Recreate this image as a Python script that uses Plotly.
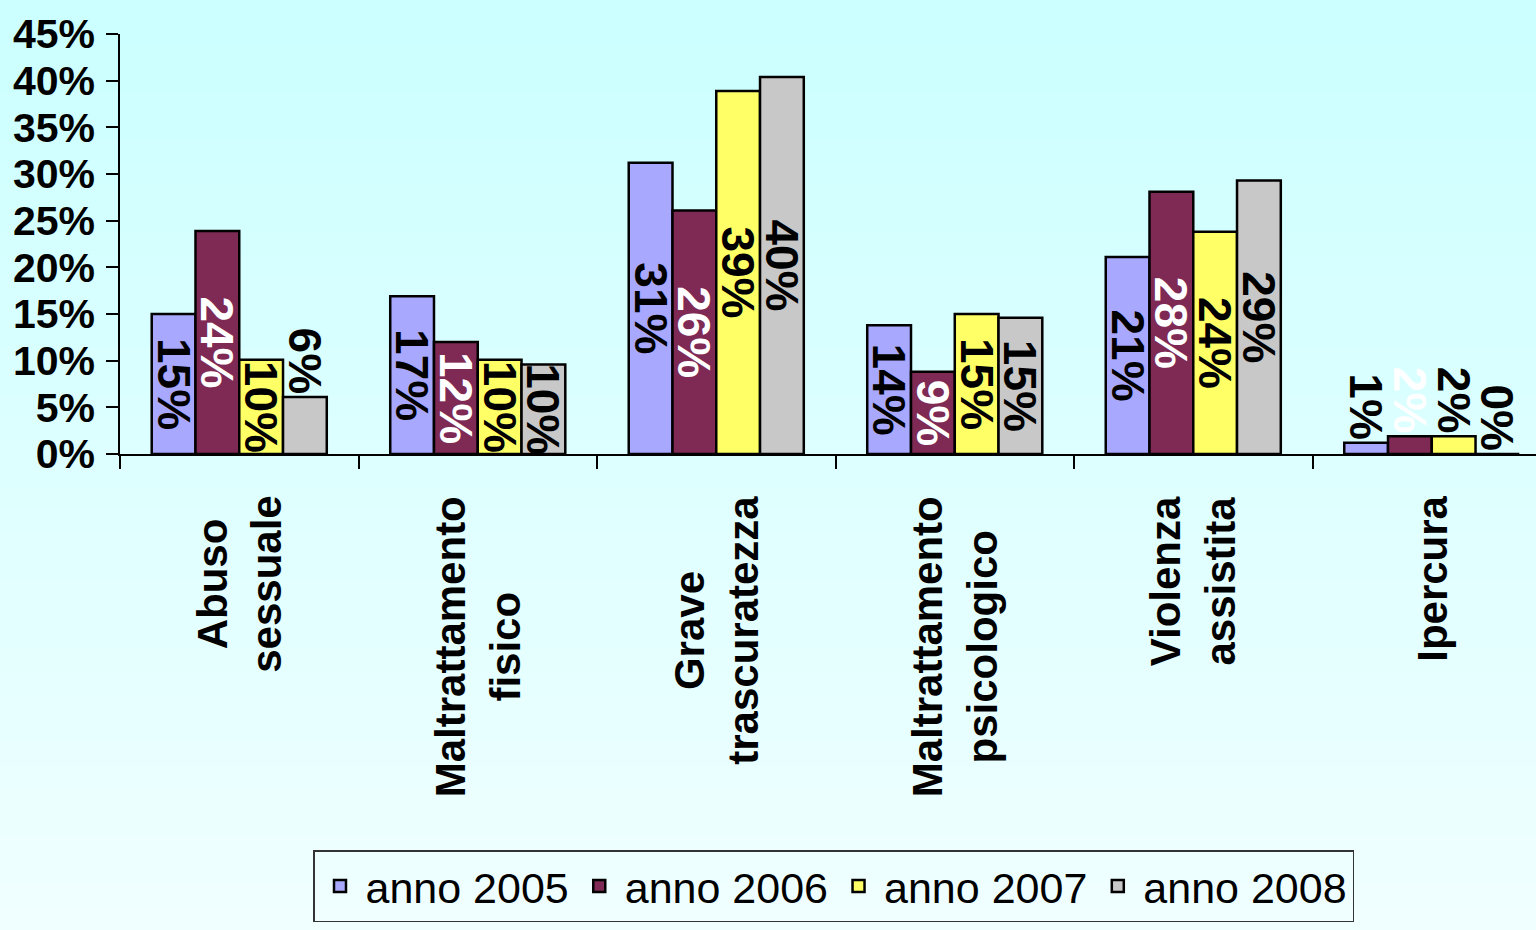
import plotly.graph_objects as go

categories = ["Abuso<br>sessuale", "Maltrattamento<br>fisico", "Grave<br>trascuratezza",
              "Maltrattamento<br>psicologico", "Violenza<br>assistita", "Ipercura"]
series_names = ["anno 2005", "anno 2006", "anno 2007", "anno 2008"]
v2005 = [15.0, 16.9, 31.2, 13.8, 21.1, 1.2]
v2006 = [23.9, 12.0, 26.1, 8.8, 28.1, 1.9]
v2007 = [10.1, 10.1, 38.9, 15.0, 23.8, 1.9]
v2008 = [6.1, 9.6, 40.4, 14.6, 29.3, 0.0]
y_ticks = [0, 5, 10, 15, 20, 25, 30, 35, 40, 45]
y_tick_labels = [f"{t}%" for t in y_ticks]

values = [v2005, v2006, v2007, v2008]
fills = ["#A8A8FF", "#7E2A55", "#FFFF66", "#C8C8C8"]
label_colors = ["black", "white", "black", "black"]

FONT = "Liberation Sans, Arial, sans-serif"

fig = go.Figure()
for name, vals, fc, lc in zip(series_names, values, fills, label_colors):
    fig.add_trace(go.Bar(
        x=categories, y=vals, name=name,
        marker=dict(color=fc, line=dict(color="black", width=2.5)),
        texttemplate="%{y:.0f}%",
        textposition=["outside" if v < 7 else "inside" for v in vals],
        insidetextanchor="middle",
        textangle=90,
        constraintext="none",
        cliponaxis=False,
        textfont=dict(family=FONT, size=46, color=lc, weight="bold"),
    ))

# background vertical gradient bands
shapes = []
n = 40
top_px, bot_px = 34, 454
ph = bot_px - top_px
y_top = (bot_px - 0) / ph
y_bot = (bot_px - 930) / ph
for i in range(n):
    t = i / (n - 1)
    r = int(204 + (240 - 204) * t)
    y0 = y_top - (y_top - y_bot) * i / n
    y1 = y_top - (y_top - y_bot) * (i + 1) / n
    shapes.append(dict(type="rect", xref="paper", yref="paper",
                       x0=-120 / 1416, x1=1.0, y0=y1, y1=y0 + 0.003,
                       fillcolor=f"rgb({r},255,255)", line=dict(width=0), layer="below"))

# category labels (rotated, lines centred)
annotations = []
for c in categories:
    annotations.append(dict(
        x=c, xref="x", y=(454 - 494) / 420, yref="paper",
        text=c, textangle=-90, showarrow=False,
        xanchor="center", yanchor="top", align="center",
        font=dict(family=FONT, size=42, color="black", weight="bold"),
    ))

fig.update_layout(
    width=1536, height=930,
    margin=dict(l=120, r=0, t=34, b=476),
    paper_bgcolor="#DDFFFF",
    plot_bgcolor="rgba(0,0,0,0)",
    shapes=shapes,
    annotations=annotations,
    barmode="group",
    bargap=0.266,
    bargroupgap=0,
    showlegend=True,
    legend=dict(
        orientation="h", x=(313 - 120) / 1416, xanchor="left",
        y=(454 - 850) / 420, yanchor="top",
        font=dict(family=FONT, size=43, color="black"),
        bgcolor="rgba(0,0,0,0)", bordercolor="#333333", borderwidth=1.5,
        itemwidth=41,
    ),
    xaxis=dict(
        range=[-0.5, 5.437],
        showline=True, linecolor="black", linewidth=1.5,
        ticks="outside", tickson="boundaries", ticklen=13, tickcolor="black", tickwidth=1.5,
        showticklabels=False,
        showgrid=False, zeroline=False,
    ),
    yaxis=dict(
        range=[0, 45], tickvals=y_ticks, ticktext=y_tick_labels,
        showline=True, linecolor="black", linewidth=1.5,
        ticks="outside", ticklen=12, tickcolor="black", tickwidth=1.5,
        tickfont=dict(family=FONT, size=41, color="black", weight="bold"),
        ticklabelstandoff=3,
        showgrid=False, zeroline=False,
    ),
)

fig.write_html("out.html", config={"displayModeBar": False},
               post_script="document.body.style.margin='0';")
